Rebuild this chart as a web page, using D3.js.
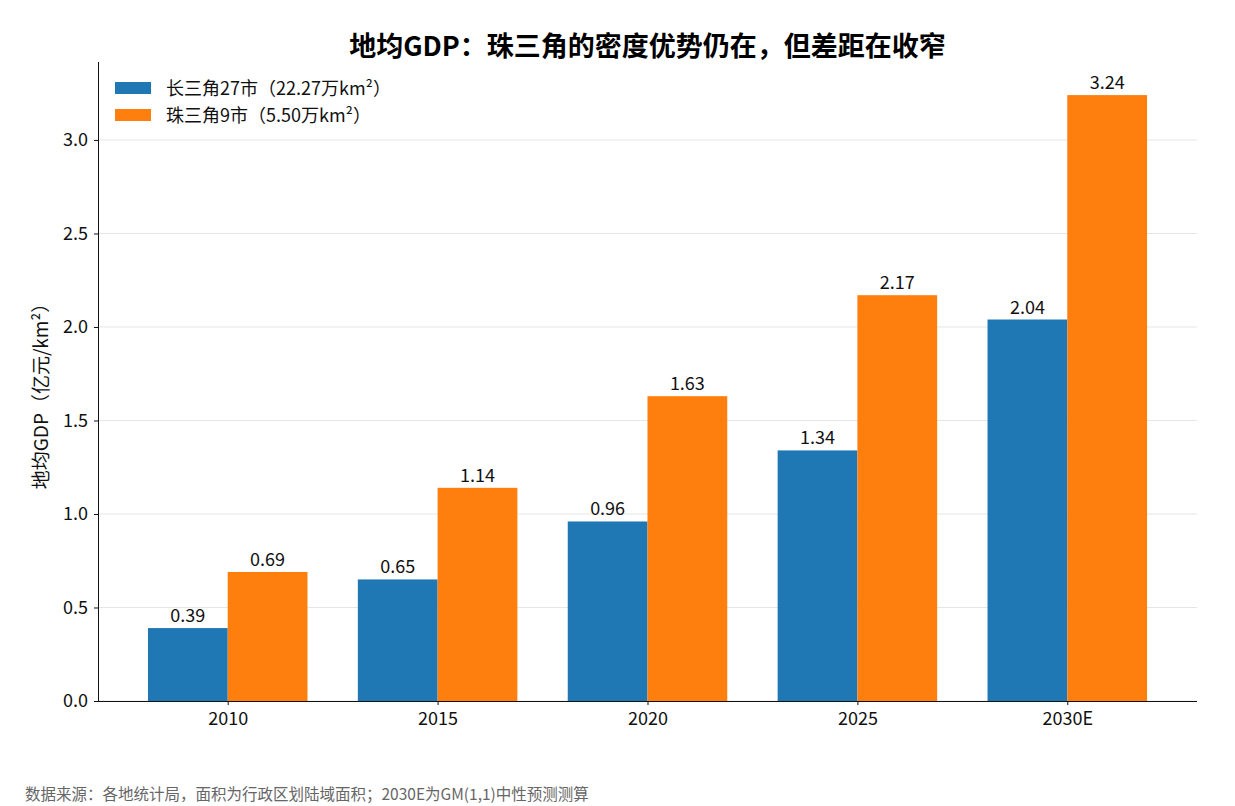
<!DOCTYPE html>
<html>
<head>
<meta charset="utf-8">
<script src="https://cdn.jsdelivr.net/npm/d3@7"></script>
<style>
  body { margin: 0; background: #fff; }
  svg { font-family: "Noto Sans CJK SC", "Noto Sans", sans-serif; }
</style>
</head>
<body>
<svg id="chart" width="1235" height="806"></svg>
<script>
// data
const years = ["2010", "2015", "2020", "2025", "2030E"];
const yrd = [0.39, 0.65, 0.96, 1.34, 2.04];   // 长三角27市
const prd = [0.69, 1.14, 1.63, 2.17, 3.24];   // 珠三角9市
const seriesNames = ["长三角27市（22.27万km²）", "珠三角9市（5.50万km²）"];
const yTicks = [0, 0.5, 1.0, 1.5, 2.0, 2.5, 3.0];

const colors = ["#1f77b4", "#ff7f0e"];
const fontStack = '"Noto Sans CJK SC", "Noto Sans", sans-serif';

function drawChart() {
    const svg = d3.select("#chart");
    const left = 98, right = 1197, top = 62, bottom = 701;
    const barW = 0.38;

    const x = d3.scaleLinear()
        .domain([-0.618, years.length - 1 + 0.618])
        .range([left, right]);

    const y = d3.scaleLinear()
        .domain([0, 3.417])
        .range([bottom, top]);

    // grid lines
    svg.append("g")
        .selectAll("line")
        .data(yTicks)
        .enter().append("line")
        .attr("x1", left).attr("x2", right)
        .attr("y1", d => y(d)).attr("y2", d => y(d))
        .attr("stroke", "#e6e6e6")
        .attr("stroke-width", 1);

    const series = [
        { name: seriesNames[0], values: yrd, offset: -barW / 2 },
        { name: seriesNames[1], values: prd, offset: barW / 2 }
    ];

    series.forEach((s, si) => {
        const g = svg.append("g");
        g.selectAll("rect")
            .data(s.values)
            .enter().append("rect")
            .attr("x", (d, i) => x(i + s.offset - barW / 2))
            .attr("width", x(barW) - x(0))
            .attr("y", d => y(d))
            .attr("height", d => y(0) - y(d))
            .attr("fill", colors[si]);

        g.selectAll("text")
            .data(s.values)
            .enter().append("text")
            .attr("x", (d, i) => x(i + s.offset))
            .attr("y", d => y(d) - 6)
            .attr("text-anchor", "middle")
            .attr("font-size", 18)
            .attr("fill", "#111")
            .text(d => d.toFixed(2));
    });

    // axes
    const xAxis = svg.append("g")
        .attr("transform", `translate(0,${bottom})`)
        .call(d3.axisBottom(x).tickValues(d3.range(years.length))
            .tickFormat(i => years[i]).tickSize(4).tickPadding(7));
    xAxis.select(".domain").attr("d", `M${left},0.5H${right}`);

    const yAxis = svg.append("g")
        .attr("transform", `translate(${left},0)`)
        .call(d3.axisLeft(y).tickValues(yTicks)
            .tickFormat(d3.format(".1f")).tickSize(4).tickPadding(6));
    yAxis.select(".domain").attr("d", `M0.5,${bottom}V${top}`);

    [xAxis, yAxis].forEach(a => a.attr("font-family", fontStack).attr("font-size", 18));
    svg.selectAll(".tick text").attr("fill", "#111");
    svg.selectAll(".domain, .tick line").attr("stroke", "#111");

    // y label
    svg.append("text")
        .attr("transform", `translate(48,${(top + bottom) / 2 + 10}) rotate(-90)`)
        .attr("text-anchor", "middle")
        .attr("font-size", 19)
        .attr("fill", "#111")
        .text("地均GDP（亿元/km²）");

    // title
    svg.append("text")
        .attr("x", (left + right) / 2)
        .attr("y", 56)
        .attr("text-anchor", "middle")
        .attr("font-size", 27)
        .attr("font-weight", "bold")
        .attr("fill", "#000")
        .text("地均GDP：珠三角的密度优势仍在，但差距在收窄");

    // legend
    const legend = svg.selectAll(".legend")
        .data(seriesNames)
        .enter().append("g")
        .attr("transform", (d, i) => `translate(115, ${82 + i * 27})`);

    legend.append("rect")
        .attr("width", 36)
        .attr("height", 12)
        .attr("fill", (d, i) => colors[i]);

    legend.append("text")
        .attr("x", 51)
        .attr("y", 13)
        .attr("font-size", 18)
        .attr("fill", "#111")
        .text(d => d);

    // source note
    svg.append("text")
        .attr("x", 25)
        .attr("y", 800)
        .attr("font-size", 15.5)
        .attr("fill", "#666")
        .text("数据来源：各地统计局，面积为行政区划陆域面积；2030E为GM(1,1)中性预测测算");
}

drawChart();
</script>
</body>
</html>
